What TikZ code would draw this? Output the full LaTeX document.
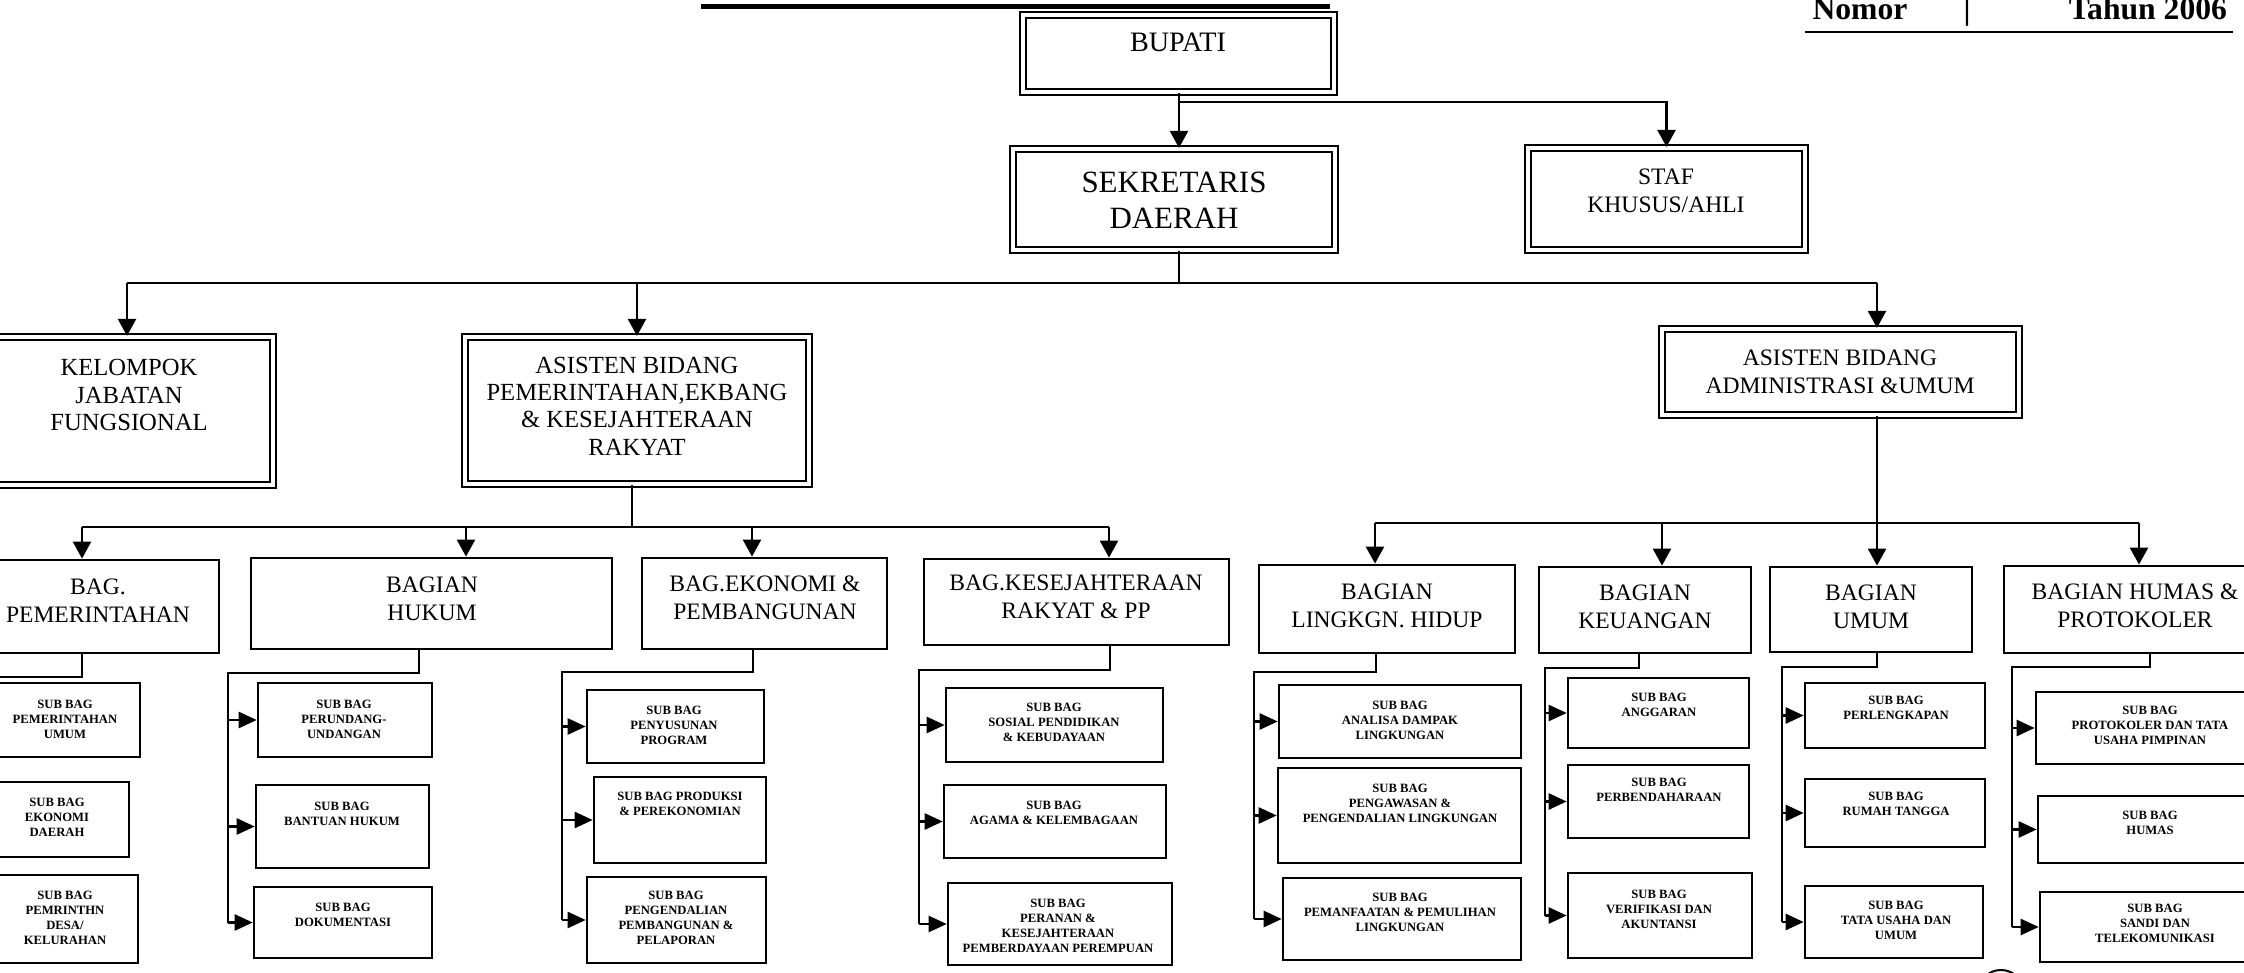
\documentclass[tikz,border=0pt]{standalone}
\usepackage{fontspec}
\setmainfont{Liberation Serif}
\usetikzlibrary{arrows.meta,fit}

\tikzset{
  dblbox/.style={draw, line width=0.022cm, double, double distance=0.04cm, inner sep=0pt},
  unitbox/.style={draw, line width=0.028cm, inner sep=0pt},
  subbox/.style={draw, line width=0.026cm, inner sep=0pt},
  lbl/.style={align=center, inner sep=0pt},
  hdrtxt/.style={anchor=base, inner sep=0pt, font=\fontsize{9}{10}\selectfont\bfseries},
  bigtxt/.style={lbl, font=\fontsize{8.8}{10.2}\selectfont},
  midtxt/.style={lbl, font=\fontsize{7}{7.8}\selectfont},
  unittxt/.style={lbl, font=\fontsize{6.7}{7.9}\selectfont},
  subtxt/.style={lbl, font=\fontsize{3.6}{4.3}\selectfont\bfseries},
  ln/.style={line width=0.025cm},
  arr/.style={line width=0.025cm, -{Triangle[length=0.17cm, width=0.18cm]}},
  subarr/.style={line width=0.025cm, -{Triangle[length=0.18cm, width=0.16cm]}},
}

\begin{document}
\begin{tikzpicture}[x=0.01cm, y=-0.01cm]
\useasboundingbox (0,0) rectangle (2244,973);
\fill[white] (0,0) rectangle (2244,973);
\clip (0,0) rectangle (2244,973);

% page header
\draw[line width=0.05cm] (701,7) -- (1330,7);
\node[hdrtxt] (nomor) at (1860,20) {Nomor};
\node[hdrtxt] (sep) at (1967,20) {|};
\node[hdrtxt] (tahun) at (2148,20) {Tahun 2006};
\coordinate (hdl) at (1805,32);
\coordinate (hdr) at (2233,32);
\draw[line width=0.02cm] (hdl) -- (hdr);

% top level
\node[dblbox, fit={(1023,15) (1334,92)}] (bupati) {};
\node[lbl, font=\fontsize{8}{9}\selectfont] (tbupati) at (1178,42) {BUPATI};

\node[dblbox, fit={(1013,149) (1335,250)}] (sekda) {};
\node[bigtxt] (tsekda) at (1174,200) {SEKRETARIS\\DAERAH};

\node[dblbox, fit={(1528,148) (1805,250)}] (staf) {};
\node[unittxt] (tstaf) at (1666,191) {STAF\\KHUSUS/AHLI};

\coordinate (jb) at (1179,102);
\draw[arr] (bupati.south -| jb) -- (sekda.north -| jb);
\draw[arr] (jb) -| (staf.north);

% second level
\node[dblbox, fit={(-20,337) (273,485)}] (kelompok) {};
\node[midtxt] (tkelompok) at (129,395) {KELOMPOK\\JABATAN\\FUNGSIONAL};

\node[dblbox, fit={(465,337) (809,484)}] (asis1) {};
\node[midtxt] (tasis1) at (637,406) {ASISTEN BIDANG\\PEMERINTAHAN,EKBANG\\\& KESEJAHTERAAN\\RAKYAT};

\node[dblbox, fit={(1662,329) (2019,415)}] (asis2) {};
\node[unittxt] (tasis2) at (1840,372) {ASISTEN BIDANG\\ADMINISTRASI \&UMUM};

\coordinate (js) at (1179,283);
\coordinate (jl) at (127,283);
\coordinate (jr) at (1877,283);
\draw[ln] (sekda.south -| js) -- (js);
\draw[ln] (jl) -- (jr);
\draw[arr] (jl) -- (kelompok.north -| jl);
\draw[arr] (asis1.north |- js) -- (asis1.north);
\draw[arr] (jr) -- (asis2.north -| jr);

% units under ASISTEN BIDANG PEMERINTAHAN
\node[unitbox, fit={(-20,560) (219,653)}] (pem) {};
\node[unittxt] (tpem) at (98,601) {BAG.\\PEMERINTAHAN};
\node[unitbox, fit={(251,558) (612,649)}] (hukum) {};
\node[unittxt] (thukum) at (432,599) {BAGIAN\\HUKUM};
\node[unitbox, fit={(642,558) (887,649)}] (ekon) {};
\node[unittxt] (tekon) at (765,598) {BAG.EKONOMI \&\\PEMBANGUNAN};
\node[unitbox, fit={(924,559) (1229,645)}] (kesra) {};
\node[unittxt] (tkesra) at (1076,597) {BAG.KESEJAHTERAAN\\RAKYAT \& PP};

\coordinate (ja) at (632,527);
\coordinate (ja1) at (82,527);
\coordinate (ja2) at (466,527);
\coordinate (ja3) at (752,527);
\coordinate (ja4) at (1109,527);
\draw[ln] (asis1.south -| ja) -- (ja);
\draw[ln] (ja1) -- (ja4);
\draw[arr] (ja1) -- (pem.north -| ja1);
\draw[arr] (ja2) -- (hukum.north -| ja2);
\draw[arr] (ja3) -- (ekon.north -| ja3);
\draw[arr] (ja4) -- (kesra.north -| ja4);

% units under ASISTEN BIDANG ADMINISTRASI
\node[unitbox, fit={(1259,565) (1515,653)}] (lh) {};
\node[unittxt] (tlh) at (1387,606) {BAGIAN\\LINGKGN. HIDUP};
\node[unitbox, fit={(1539,567) (1751,653)}] (keu) {};
\node[unittxt] (tkeu) at (1645,607) {BAGIAN\\KEUANGAN};
\node[unitbox, fit={(1770,567) (1972,652)}] (umum) {};
\node[unittxt] (tumum) at (1871,607) {BAGIAN\\UMUM};
\node[unitbox, fit={(2004,566) (2260,653)}] (humas) {};
\node[unittxt] (thumas) at (2135,606) {BAGIAN HUMAS \&\\PROTOKOLER};

\coordinate (jd) at (1877,523);
\coordinate (jd1) at (1375,523);
\coordinate (jd2) at (1662,523);
\coordinate (jd4) at (2139,523);
\draw[ln] (asis2.south -| jd) -- (jd);
\draw[ln] (jd1) -- (jd4);
\draw[arr] (jd1) -- (lh.north -| jd1);
\draw[arr] (jd2) -- (keu.north -| jd2);
\draw[arr] (jd) -- (umum.north -| jd);
\draw[arr] (jd4) -- (humas.north -| jd4);

% sub-units: BAG. PEMERINTAHAN
\node[subbox, fit={(-20,683) (140,757)}] (s11) {};
\node[subtxt] (t11) at (65,719) {SUB BAG\\PEMERINTAHAN\\UMUM};
\node[subbox, fit={(-20,782) (129,857)}] (s12) {};
\node[subtxt] (t12) at (57,817) {SUB BAG\\EKONOMI\\DAERAH};
\node[subbox, fit={(-20,875) (138,963)}] (s13) {};
\node[subtxt] (t13) at (65,918) {SUB BAG\\PEMRINTHN\\DESA/\\KELURAHAN};
\coordinate (d1) at (82,677);
\coordinate (h1) at (-12,677);
\draw[ln] (pem.south -| d1) -- (d1) -- (h1) -- (h1 |- s13.west);
\draw[subarr] (h1 |- s11.west) -- (s11.west);
\draw[subarr] (h1 |- s12.west) -- (s12.west);
\draw[subarr] (h1 |- s13.west) -- (s13.west);

% sub-units: BAGIAN HUKUM
\node[subbox, fit={(258,683) (432,757)}] (s21) {};
\node[subtxt] (t21) at (344,719) {SUB BAG\\PERUNDANG-\\UNDANGAN};
\node[subbox, fit={(256,785) (429,868)}] (s22) {};
\node[subtxt] (t22) at (342,814) {SUB BAG\\BANTUAN HUKUM};
\node[subbox, fit={(254,887) (432,958)}] (s23) {};
\node[subtxt] (t23) at (343,915) {SUB BAG\\DOKUMENTASI};
\coordinate (d2) at (419,673);
\coordinate (h2) at (228,673);
\draw[ln] (hukum.south -| d2) -- (d2) -- (h2) -- (h2 |- s23.west);
\draw[subarr] (h2 |- s21.west) -- (s21.west);
\draw[subarr] (h2 |- s22.west) -- (s22.west);
\draw[subarr] (h2 |- s23.west) -- (s23.west);

% sub-units: BAG. EKONOMI & PEMBANGUNAN
\node[subbox, fit={(587,690) (764,763)}] (s31) {};
\node[subtxt] (t31) at (674,725) {SUB BAG\\PENYUSUNAN\\PROGRAM};
\node[subbox, fit={(594,777) (766,863)}] (s32) {};
\node[subtxt] (t32) at (680,804) {SUB BAG PRODUKSI\\\& PEREKONOMIAN};
\node[subbox, fit={(587,877) (766,963)}] (s33) {};
\node[subtxt] (t33) at (676,918) {SUB BAG\\PENGENDALIAN\\PEMBANGUNAN \&\\PELAPORAN};
\coordinate (d3) at (753,672);
\coordinate (h3) at (562,672);
\draw[ln] (ekon.south -| d3) -- (d3) -- (h3) -- (h3 |- s33.west);
\draw[subarr] (h3 |- s31.west) -- (s31.west);
\draw[subarr] (h3 |- s32.west) -- (s32.west);
\draw[subarr] (h3 |- s33.west) -- (s33.west);

% sub-units: BAG. KESEJAHTERAAN RAKYAT & PP
\node[subbox, fit={(946,688) (1163,762)}] (s41) {};
\node[subtxt] (t41) at (1054,722) {SUB BAG\\SOSIAL PENDIDIKAN\\\& KEBUDAYAAN};
\node[subbox, fit={(944,785) (1166,858)}] (s42) {};
\node[subtxt] (t42) at (1054,813) {SUB BAG\\AGAMA \& KELEMBAGAAN};
\node[subbox, fit={(948,883) (1172,965)}] (s43) {};
\node[subtxt] (t43) at (1058,926) {SUB BAG\\PERANAN \&\\KESEJAHTERAAN\\PEMBERDAYAAN PEREMPUAN};
\coordinate (d4) at (1110,670);
\coordinate (h4) at (919,670);
\draw[ln] (kesra.south -| d4) -- (d4) -- (h4) -- (h4 |- s43.west);
\draw[subarr] (h4 |- s41.west) -- (s41.west);
\draw[subarr] (h4 |- s42.west) -- (s42.west);
\draw[subarr] (h4 |- s43.west) -- (s43.west);

% sub-units: BAGIAN LINGKGN. HIDUP
\node[subbox, fit={(1279,685) (1521,758)}] (s51) {};
\node[subtxt] (t51) at (1400,720) {SUB BAG\\ANALISA DAMPAK\\LINGKUNGAN};
\node[subbox, fit={(1278,768) (1521,863)}] (s52) {};
\node[subtxt] (t52) at (1400,803) {SUB BAG\\PENGAWASAN \&\\PENGENDALIAN LINGKUNGAN};
\node[subbox, fit={(1283,878) (1521,960)}] (s53) {};
\node[subtxt] (t53) at (1400,912) {SUB BAG\\PEMANFAATAN \& PEMULIHAN\\LINGKUNGAN};
\coordinate (d5) at (1376,672);
\coordinate (h5) at (1254,672);
\draw[ln] (lh.south -| d5) -- (d5) -- (h5) -- (h5 |- s53.west);
\draw[subarr] (h5 |- s51.west) -- (s51.west);
\draw[subarr] (h5 |- s52.west) -- (s52.west);
\draw[subarr] (h5 |- s53.west) -- (s53.west);

% sub-units: BAGIAN KEUANGAN
\node[subbox, fit={(1568,678) (1749,748)}] (s61) {};
\node[subtxt] (t61) at (1659,705) {SUB BAG\\ANGGARAN};
\node[subbox, fit={(1568,765) (1749,838)}] (s62) {};
\node[subtxt] (t62) at (1659,790) {SUB BAG\\PERBENDAHARAAN};
\node[subbox, fit={(1568,873) (1752,958)}] (s63) {};
\node[subtxt] (t63) at (1659,909) {SUB BAG\\VERIFIKASI DAN\\AKUNTANSI};
\coordinate (d6) at (1639,668);
\coordinate (h6) at (1545,668);
\draw[ln] (keu.south -| d6) -- (d6) -- (h6) -- (h6 |- s63.west);
\draw[subarr] (h6 |- s61.west) -- (s61.west);
\draw[subarr] (h6 |- s62.west) -- (s62.west);
\draw[subarr] (h6 |- s63.west) -- (s63.west);

% sub-units: BAGIAN UMUM
\node[subbox, fit={(1805,683) (1985,748)}] (s71) {};
\node[subtxt] (t71) at (1896,708) {SUB BAG\\PERLENGKAPAN};
\node[subbox, fit={(1805,779) (1985,847)}] (s72) {};
\node[subtxt] (t72) at (1896,804) {SUB BAG\\RUMAH TANGGA};
\node[subbox, fit={(1805,886) (1983,958)}] (s73) {};
\node[subtxt] (t73) at (1896,920) {SUB BAG\\TATA USAHA DAN\\UMUM};
\coordinate (d7) at (1877,667);
\coordinate (h7) at (1782,667);
\draw[ln] (umum.south -| d7) -- (d7) -- (h7) -- (h7 |- s73.west);
\draw[subarr] (h7 |- s71.west) -- (s71.west);
\draw[subarr] (h7 |- s72.west) -- (s72.west);
\draw[subarr] (h7 |- s73.west) -- (s73.west);

% sub-units: BAGIAN HUMAS & PROTOKOLER
\node[subbox, fit={(2036,692) (2260,764)}] (s81) {};
\node[subtxt] (t81) at (2150,725) {SUB BAG\\PROTOKOLER DAN TATA\\USAHA PIMPINAN};
\node[subbox, fit={(2038,796) (2260,863)}] (s82) {};
\node[subtxt] (t82) at (2150,823) {SUB BAG\\HUMAS};
\node[subbox, fit={(2040,892) (2260,962)}] (s83) {};
\node[subtxt] (t83) at (2155,923) {SUB BAG\\SANDI DAN\\TELEKOMUNIKASI};
\coordinate (d8) at (2150,667);
\coordinate (h8) at (2012,667);
\draw[ln] (humas.south -| d8) -- (d8) -- (h8) -- (h8 |- s83.west);
\draw[subarr] (h8 |- s81.west) -- (s81.west);
\draw[subarr] (h8 |- s82.west) -- (s82.west);
\draw[subarr] (h8 |- s83.west) -- (s83.west);

% page mark at the lower edge
\draw[line width=0.02cm] (2001,993) circle[radius=0.23cm];
\end{tikzpicture}
\end{document}
